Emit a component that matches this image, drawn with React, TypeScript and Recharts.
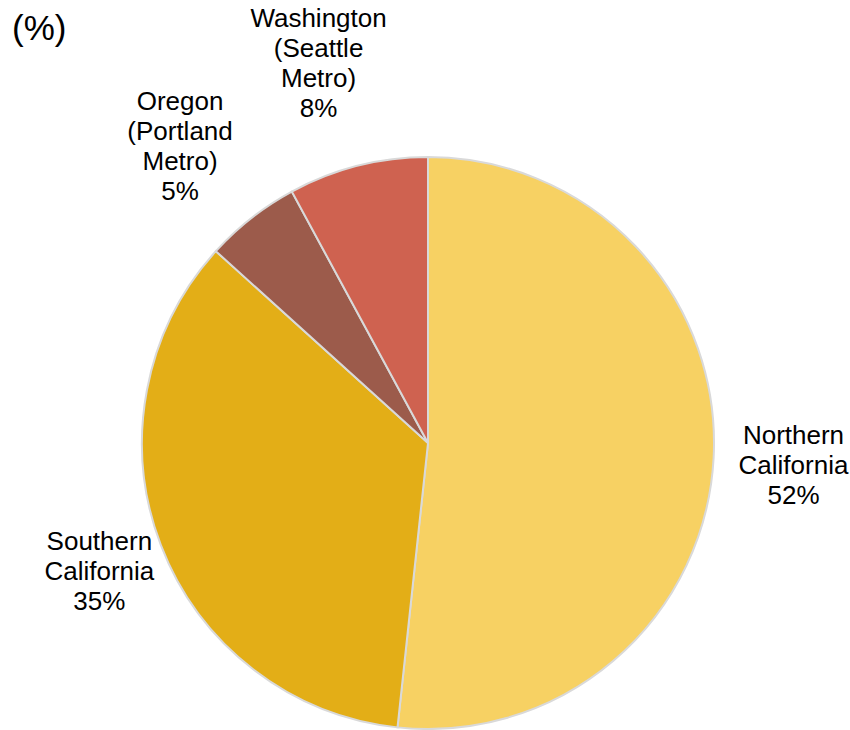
import React from 'react';
import { Cell, Pie, PieChart } from 'recharts';

const regions = ['Northern California', 'Southern California', 'Oregon (Portland Metro)', 'Washington (Seattle Metro)'];
const regionLines = [
    ['Northern', 'California'],
    ['Southern', 'California'],
    ['Oregon', '(Portland', 'Metro)'],
    ['Washington', '(Seattle', 'Metro)']
];
// slice sizes; labels show them rounded
const shares = [51.7, 35.0, 5.4, 7.9];
const sliceColors = ['#F7D163', '#E3AE17', '#9C5B4B', '#CF6250'];

const data = regions.map((name, i) => ({ name, value: shares[i], lines: regionLines[i] }));

const RAD = Math.PI / 180;
const FONT = '"Liberation Sans", Arial, sans-serif';
const LINE_H = 30;

// small per-label nudges so the text blocks sit where the original puts them
const nudges: [number, number][] = [
    [10, 3],
    [4, 1],
    [-28, -17],
    [-22, -35]
];

const renderLabel = (props: any) => {
    const { cx, cy, midAngle, outerRadius, index, payload, value } = props;
    const r = outerRadius + 70;
    const [nx, ny] = nudges[index] ?? [0, 0];
    const x = cx + r * Math.cos(-midAngle * RAD) + nx;
    const y = cy + r * Math.sin(-midAngle * RAD) + ny;
    const lines: string[] = [...(payload.lines ?? []), `${Math.round(value)}%`];
    const top = y - ((lines.length - 1) * LINE_H) / 2;
    return (
        <g>
            {lines.map((line, i) => (
                <text
                    key={i}
                    x={x}
                    y={top + i * LINE_H}
                    textAnchor="middle"
                    dominantBaseline="central"
                    fontFamily={FONT}
                    fontSize={26}
                    fill="#000"
                >
                    {line}
                </text>
            ))}
        </g>
    );
};

export default function App() {
    return (
        <div style={{ position: 'absolute', left: 0, top: 0, width: 850, height: 730, background: '#fff' }}>
            <div
                style={{
                    position: 'absolute',
                    left: 12,
                    top: 8,
                    fontFamily: FONT,
                    fontSize: 35,
                    color: '#000',
                    lineHeight: '40px'
                }}
            >
                (%)
            </div>
            <PieChart width={850} height={730} margin={{ top: 0, right: 0, bottom: 0, left: 0 }}>
                <Pie
                    data={data}
                    dataKey="value"
                    nameKey="name"
                    cx={428}
                    cy={443}
                    outerRadius={286}
                    startAngle={90}
                    endAngle={-270}
                    stroke="#D9D9D9"
                    strokeWidth={2}
                    label={renderLabel}
                    labelLine={false}
                    isAnimationActive={false}
                >
                    {data.map((d, i) => (
                        <Cell key={d.name} fill={sliceColors[i]} />
                    ))}
                </Pie>
            </PieChart>
        </div>
    );
}
